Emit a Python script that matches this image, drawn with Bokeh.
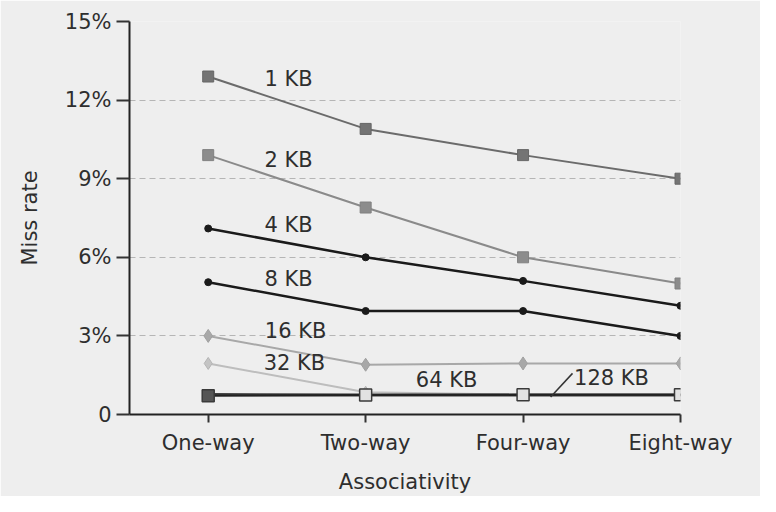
from bokeh.plotting import figure
from bokeh.models import Range1d, FixedTicker, ColumnDataSource
from bokeh.core.properties import value
from bokeh.embed import file_html
from bokeh.resources import INLINE

# ---- data ----
categories = ["One-way", "Two-way", "Four-way", "Eight-way"]
x_pos = [0, 1, 2, 3]
kb1 = [12.9, 10.9, 9.9, 9.0]
kb2 = [9.9, 7.9, 6.0, 5.0]
kb4 = [7.1, 6.0, 5.1, 4.15]
kb8 = [5.05, 3.95, 3.95, 3.0]
kb16 = [3.0, 1.9, 1.95, 1.95]
kb32 = [1.95, 0.85, 0.76, 0.76]
kb64 = [0.76, 0.74, 0.74, 0.74]
kb128 = [0.72, 0.74, 0.75, 0.75]
y_ticks = [0, 3, 6, 9, 12, 15]
y_tick_labels = ["0", "3%", "6%", "9%", "12%", "15%"]
series_names = ["1 KB", "2 KB", "4 KB", "8 KB", "16 KB", "32 KB", "64 KB", "128 KB"]
label_x = [0.51, 0.51, 0.51, 0.51, 0.555, 0.548, 1.514, 2.562]
label_y = [12.79, 9.72, 7.25, 5.16, 3.18, 1.98, 1.31, 1.38]

FONT = "DejaVu Sans"
TXT = "#2e2e2e"
BG = "#eeeeee"
FS = "21px"

p = figure(width=760, height=496, output_backend="svg", toolbar_location=None,
           x_range=Range1d(-0.5, 3.0), y_range=Range1d(0, 15),
           min_border_left=129, min_border_right=80, min_border_top=21,
           min_border_bottom=74)
p.background_fill_color = BG
p.border_fill_color = BG
p.outline_line_color = None

# grid
p.xgrid.grid_line_color = None
p.ygrid.ticker = FixedTicker(ticks=y_ticks[1:])
p.ygrid.grid_line_color = "#b5b5b5"
p.ygrid.grid_line_dash = "6 4"
p.ygrid.grid_line_width = 1

# axes
p.xaxis.ticker = FixedTicker(ticks=x_pos)
p.xaxis.major_label_overrides = {x: c for x, c in zip(x_pos, categories)}
p.yaxis.ticker = FixedTicker(ticks=y_ticks)
p.yaxis.major_label_overrides = {t: l for t, l in zip(y_ticks, y_tick_labels)}
for ax in (p.xaxis, p.yaxis):
    ax.axis_line_color = "#222222"
    ax.axis_line_width = 2
    ax.major_tick_line_color = "#333333"
    ax.major_tick_line_width = 2
    ax.major_tick_in = 0
    ax.minor_tick_line_color = None
    ax.major_label_text_font = FONT
    ax.major_label_text_font_size = FS
    ax.major_label_text_color = TXT
    ax.axis_label_text_font = FONT
    ax.axis_label_text_font_size = FS
    ax.axis_label_text_font_style = "normal"
    ax.axis_label_text_color = TXT
p.yaxis.major_tick_out = 13
p.yaxis.major_label_standoff = 5
p.yaxis.axis_label = "Miss rate"
p.yaxis.axis_label_standoff = 20
p.xaxis.major_tick_out = 8
p.xaxis.major_label_standoff = 8
p.xaxis.axis_label = "Associativity"
p.xaxis.axis_label_standoff = 12

# series
p.line(x_pos, kb1, line_color="#6b6b6b", line_width=2)
p.scatter(x_pos, kb1, marker="square", size=11, fill_color="#747474", line_color="#666666")

p.line(x_pos, kb2, line_color="#8a8a8a", line_width=2)
p.scatter(x_pos, kb2, marker="square", size=11, fill_color="#8c8c8c", line_color="#808080")

p.line(x_pos, kb4, line_color="#1a1a1a", line_width=2.5)
p.scatter(x_pos, kb4, marker="circle", size=7, fill_color="#1a1a1a", line_color="#1a1a1a")

p.line(x_pos, kb8, line_color="#1a1a1a", line_width=2.5)
p.scatter(x_pos, kb8, marker="circle", size=7, fill_color="#1a1a1a", line_color="#1a1a1a")

p.line(x_pos, kb16, line_color="#a8a8a8", line_width=2)
p.scatter(x_pos, kb16, marker="diamond", size=13, fill_color="#a8a8a8", line_color="#a0a0a0")

p.line(x_pos, kb32, line_color="#bdbdbd", line_width=2)
p.scatter(x_pos, kb32, marker="diamond", size=12, fill_color="#c4c4c4", line_color="#b5b5b5")

p.line(x_pos, kb64, line_color="#3a3a3a", line_width=3)
p.line(x_pos, kb128, line_color="#222222", line_width=2)
src128 = ColumnDataSource(dict(x=x_pos, y=kb128,
                               fc=["#555555", "#e2e2e2", "#e2e2e2", "#e2e2e2"]))
p.scatter("x", "y", source=src128, marker="square", size=12, fill_color="fc",
          line_color="#3a3a3a", line_width=1.5)

# leader line for 128 KB label
p.segment(x0=[2.314], y0=[1.57], x1=[2.175], y1=[0.67], line_color="#333333", line_width=1.5)

# series labels
p.text(label_x, label_y, text=series_names, text_font=value(FONT),
       text_font_size=FS, text_color=TXT, text_align="center",
       text_baseline="middle")

open("out.html", "w").write(file_html(p, INLINE))
